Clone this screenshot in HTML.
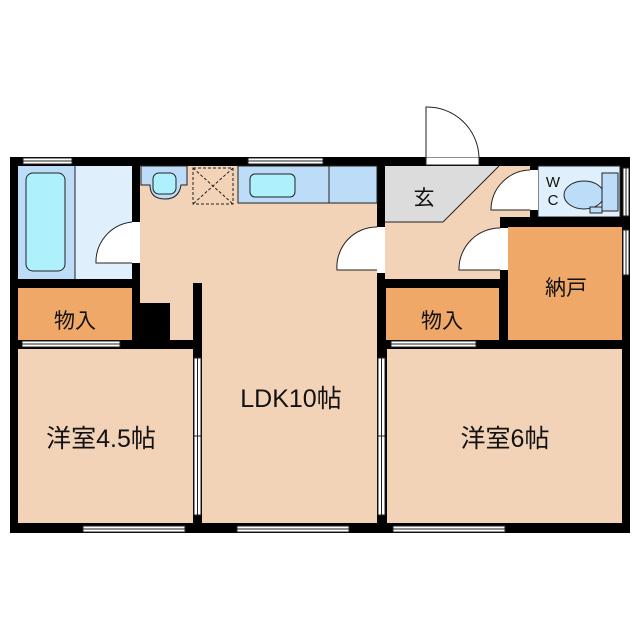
<!DOCTYPE html>
<html><head><meta charset="utf-8"><style>
html,body{margin:0;padding:0;background:#fff}
svg{display:block}
text{font-family:"Liberation Sans","Noto Sans CJK JP",sans-serif;fill:#111}
</style></head><body>
<svg width="640" height="640" viewBox="0 0 640 640" xmlns="http://www.w3.org/2000/svg">
<rect x="10" y="157" width="620" height="376" fill="#000"/>
<rect x="18" y="166" width="57" height="113" fill="#bcdcf8"/>
<rect x="75" y="166" width="57" height="113" fill="#dff0fc"/>
<line x1="75" y1="166" x2="75" y2="279" stroke="#222" stroke-width="1"/>
<rect x="26" y="173" width="39" height="98" rx="7" fill="#aef0fc" stroke="#222" stroke-width="1"/>
<rect x="132" y="222" width="8" height="41" fill="#fff"/>
<path d="M132 222 A40 40 0 0 0 96 263 L132 263" fill="#fff" stroke="#222" stroke-width="1"/>
<rect x="18" y="288" width="114" height="52" fill="#f0a868"/>
<text x="75" y="328" font-size="21" text-anchor="middle">物入</text>
<rect x="140" y="166" width="237" height="137" fill="#f3d3b8"/>
<rect x="170" y="303" width="23" height="37" fill="#f3d3b8"/>
<rect x="202" y="283" width="175" height="240" fill="#f3d3b8"/>
<rect x="193" y="283" width="9" height="75" fill="#000"/>
<path d="M141 166 H187 V185 H181 Q179 199 165 199 Q150 199 150 185 H141 Z" fill="#bcdcf8" stroke="#222" stroke-width="1"/>
<rect x="153" y="173" width="23" height="21" rx="6" fill="#aef0fc" stroke="#222" stroke-width="1"/>
<rect x="193" y="168" width="40" height="36" fill="none" stroke="#222" stroke-width="1" stroke-dasharray="3,2"/>
<path d="M193 168 L233 204 M233 168 L193 204" stroke="#222" stroke-width="1" stroke-dasharray="3,2"/>
<rect x="238" y="166" width="139" height="37" fill="#bcdcf8" stroke="#222" stroke-width="1"/>
<line x1="329" y1="166" x2="329" y2="203" stroke="#222" stroke-width="1"/>
<rect x="250" y="174" width="45" height="23" rx="5" fill="#aef0fc" stroke="#222" stroke-width="1"/>
<rect x="385" y="166" width="145" height="113" fill="#f3d3b8"/>
<polygon points="385,166 499,166 443,222 385,222" fill="#dcdcdc"/>
<line x1="499" y1="166" x2="443" y2="222" stroke="#222" stroke-width="1"/>
<line x1="443" y1="222" x2="385" y2="222" stroke="#222" stroke-width="1"/>
<text x="424" y="205" font-size="21" text-anchor="middle">玄</text>
<rect x="538" y="166" width="82" height="51" fill="#dff0fc" stroke="#222" stroke-width="1"/>
<text x="553" y="187" font-size="15" text-anchor="middle">W</text>
<text x="553" y="205" font-size="15" text-anchor="middle">C</text>
<ellipse cx="584" cy="195" rx="20" ry="14" fill="#bcdcf8" stroke="#222" stroke-width="1"/>
<rect x="602" y="173" width="16" height="38" fill="#bcdcf8" stroke="#222" stroke-width="1"/>
<rect x="590" y="207" width="12" height="6" fill="#bcdcf8" stroke="#222" stroke-width="1"/>
<rect x="530" y="170" width="8" height="40" fill="#fff"/>
<path d="M530 170 A40 40 0 0 0 491 210 L530 210" fill="#fff" stroke="#222" stroke-width="1"/>
<rect x="500" y="217" width="130" height="10" fill="#000"/>
<rect x="500" y="217" width="8" height="123" fill="#000"/>
<rect x="508" y="227" width="114" height="113" fill="#f0a868"/>
<text x="566" y="295" font-size="21" text-anchor="middle">納戸</text>
<rect x="500" y="228" width="8" height="42" fill="#fff"/>
<path d="M500 228 A41 41 0 0 0 459 270 L500 270" fill="#fff" stroke="#222" stroke-width="1"/>
<rect x="377" y="227" width="8" height="46" fill="#fff"/>
<path d="M377 227 A40 40 0 0 0 337 270 L377 270" fill="#fff" stroke="#222" stroke-width="1"/>
<rect x="386" y="288" width="113" height="52" fill="#f0a868"/>
<text x="442" y="328" font-size="21" text-anchor="middle">物入</text>
<rect x="18" y="349" width="175" height="174" fill="#f3d3b8"/>
<rect x="387" y="349" width="235" height="174" fill="#f3d3b8"/>
<text x="101" y="447" font-size="25" text-anchor="middle">洋室4.5帖</text>
<text x="291" y="407" font-size="25" text-anchor="middle">LDK10帖</text>
<text x="505" y="447" font-size="25" text-anchor="middle">洋室6帖</text>
<g fill="#fff" stroke="#222" stroke-width="1">
<rect x="194" y="358" width="7" height="157"/>
<rect x="378" y="358" width="7" height="157"/>
</g>
<g stroke="#222" stroke-width="1">
<line x1="197.5" y1="358" x2="197.5" y2="515"/><line x1="381.5" y1="358" x2="381.5" y2="515"/>
<line x1="194" y1="436" x2="201" y2="436"/><line x1="378" y1="436" x2="385" y2="436"/>
</g>
<g fill="#fff" stroke="#222" stroke-width="1">
<rect x="23" y="158" width="49" height="6"/>
<rect x="248" y="158" width="75" height="6"/>
<rect x="22" y="341" width="98" height="6"/>
<rect x="391" y="341" width="85" height="6"/>
<rect x="83" y="526" width="102" height="6"/>
<rect x="237" y="526" width="112" height="6"/>
<rect x="393" y="526" width="112" height="6"/>
<rect x="623" y="168" width="6" height="48"/>
<rect x="623" y="230" width="6" height="45"/>
</g>
<g stroke="#222" stroke-width="1">
<line x1="23" y1="161" x2="72" y2="161"/><line x1="248" y1="161" x2="323" y2="161"/>
<line x1="22" y1="344" x2="120" y2="344"/><line x1="391" y1="344" x2="476" y2="344"/>
<line x1="83" y1="529" x2="185" y2="529"/><line x1="237" y1="529" x2="349" y2="529"/>
<line x1="393" y1="529" x2="505" y2="529"/>
<line x1="626" y1="168" x2="626" y2="216"/><line x1="626" y1="230" x2="626" y2="275"/>
</g>
<rect x="426" y="157" width="53" height="8" fill="#fff" stroke="#222" stroke-width="1"/>
<path d="M426 157 V107 A52 52 0 0 1 479 157" fill="#fff" stroke="#222" stroke-width="1"/>
</svg>
</body></html>
